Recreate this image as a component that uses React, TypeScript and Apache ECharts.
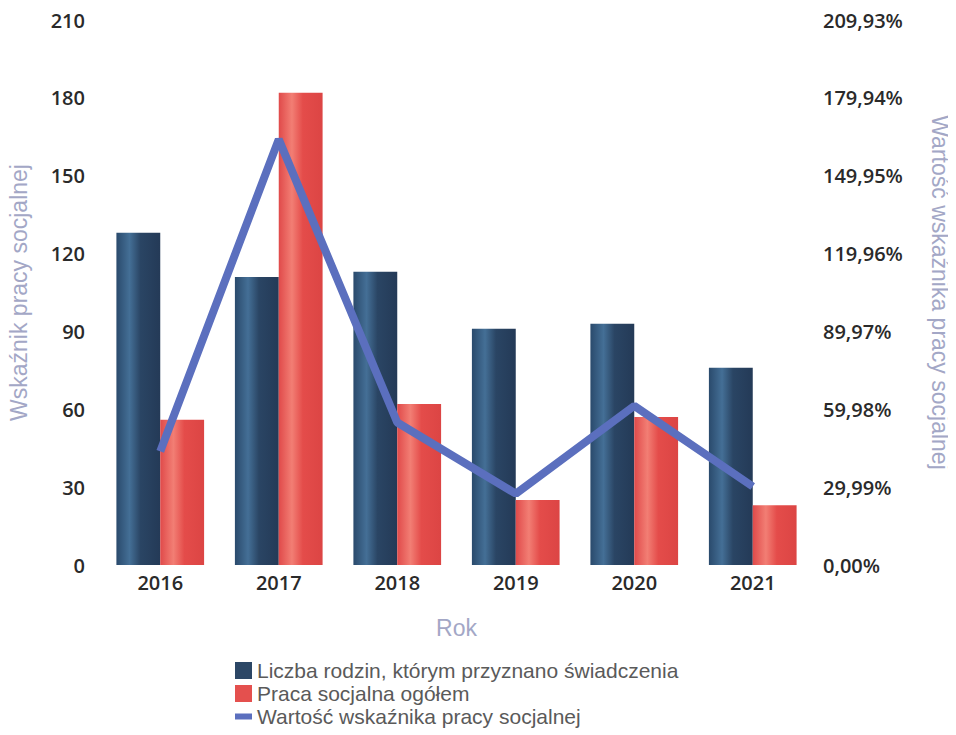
import React, { useEffect, useRef } from "react";
import * as echarts from "echarts";

const categories = ["2016", "2017", "2018", "2019", "2020", "2021"];
const families = [128, 111, 113, 91, 93, 76];
const socialWork = [56, 182, 62, 25, 57, 23];
const indicator = [43.75, 163.96, 54.87, 27.47, 61.29, 30.26];
const leftMax = 210;
const leftInterval = 30;
const rightMax = 209.93;
const rightInterval = 29.99;

const seriesNames = [
  "Liczba rodzin, którym przyznano świadczenia",
  "Praca socjalna ogółem",
  "Wartość wskaźnika pracy socjalnej",
];

export default function App() {
  const ref = useRef<HTMLDivElement>(null);
  useEffect(() => {
    if (!ref.current) return;
    const chart = echarts.init(ref.current, undefined, { renderer: "svg" });
    const nameColor = "#a3a7c6";
    const darkGrad = new echarts.graphic.LinearGradient(0, 0, 1, 0, [
      { offset: 0, color: "#2a4a6c" },
      { offset: 0.3, color: "#446f96" },
      { offset: 0.55, color: "#2a4564" },
      { offset: 1, color: "#243a57" },
    ]);
    const redGrad = new echarts.graphic.LinearGradient(0, 0, 1, 0, [
      { offset: 0, color: "#e04a4a" },
      { offset: 0.3, color: "#f27e74" },
      { offset: 0.55, color: "#e44c4a" },
      { offset: 1, color: "#dc4544" },
    ]);
    const labelStyle = { fontFamily: "Open Sans", fontWeight: 600, fontSize: 20, color: "#2a2a2a" };
    chart.setOption({
      animation: false,
      backgroundColor: "#ffffff",
      grid: { left: 93, right: 136, top: 12, bottom: 170, containLabel: false, outerBoundsMode: "none" },
      legend: {
        orient: "vertical",
        left: 227,
        top: 652,
        height: 90,
        padding: 0,
        itemWidth: 17,
        itemHeight: 17,
        itemGap: 2,
        symbolKeepAspect: true,
        textStyle: { fontFamily: "Liberation Sans", fontSize: 21, color: "#5a5a5a" },
        data: [
          { name: seriesNames[0], icon: "rect", itemStyle: { color: "#2c4766" } },
          { name: seriesNames[1], icon: "rect", itemStyle: { color: "#e4504e" } },
          { name: seriesNames[2], icon: "path://M0,0H17V6H0Z", itemStyle: { color: "#5b6fbe" } },
        ],
      },
      xAxis: {
        type: "category",
        data: categories,
        name: "Rok",
        nameLocation: "middle",
        nameGap: 51,
        nameTextStyle: { fontFamily: "Liberation Sans", fontSize: 23, color: nameColor },
        axisLine: { show: false },
        axisTick: { show: false },
        axisLabel: { ...labelStyle, margin: 7 },
      },
      yAxis: [
        {
          type: "value",
          min: 0,
          max: leftMax,
          interval: leftInterval,
          name: "Wskaźnik pracy socjalnej",
          nameLocation: "middle",
          nameGap: 71,
          nameTextStyle: { fontFamily: "Liberation Sans", fontSize: 23, color: nameColor },
          axisLine: { show: false },
          axisTick: { show: false },
          splitLine: { show: false },
          axisLabel: { ...labelStyle, margin: 16 },
        },
        {
          type: "value",
          min: 0,
          max: rightMax,
          interval: rightInterval,
          name: "Wartość wskaźnika pracy socjalnej",
          nameLocation: "middle",
          nameGap: 116,
          nameRotate: -90,
          nameTextStyle: { fontFamily: "Liberation Sans", fontSize: 23, color: nameColor },
          axisLine: { show: false },
          axisTick: { show: false },
          splitLine: { show: false },
          axisLabel: {
            ...labelStyle,
            margin: 11,
            formatter: (v: number) => v.toFixed(2).replace(".", ",") + "%",
          },
        },
      ],
      series: [
        {
          name: seriesNames[0],
          type: "bar",
          data: families,
          barGap: "0%",
          barCategoryGap: "26%",
          itemStyle: { color: darkGrad },
        },
        {
          name: seriesNames[1],
          type: "bar",
          data: socialWork,
          itemStyle: { color: redGrad },
        },
        {
          name: seriesNames[2],
          type: "line",
          yAxisIndex: 1,
          data: indicator,
          symbol: "none",
          lineStyle: { color: "#5b6fbe", width: 8 },
          itemStyle: { color: "#5b6fbe" },
        },
      ],
    });
    return () => chart.dispose();
  }, []);
  return <div ref={ref} style={{ width: 940, height: 727 }} />;
}
